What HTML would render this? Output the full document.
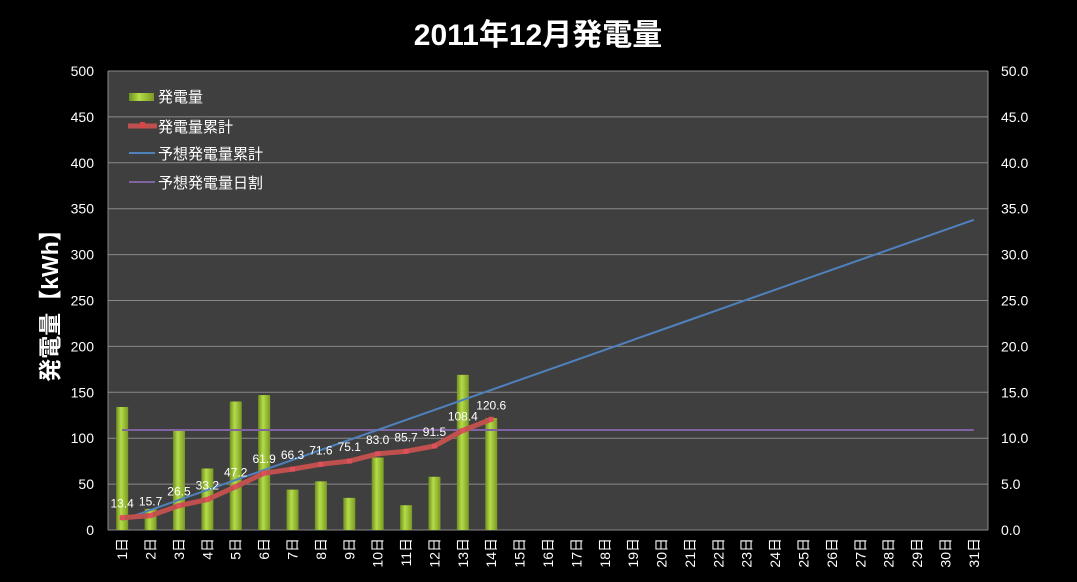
<!DOCTYPE html>
<html><head><meta charset="utf-8"><style>
body{margin:0;background:#000;}
svg{display:block;font-family:"Liberation Sans","Noto Sans CJK JP",sans-serif;}
</style></head><body>
<svg id="c" width="1077" height="582">
<defs>
<linearGradient id="bg" x1="0" x2="1" y1="0" y2="0">
<stop offset="0" stop-color="#6f8f1e"/><stop offset="0.4" stop-color="#b5dc4a"/><stop offset="1" stop-color="#7a9a22"/>
</linearGradient>
</defs>
<rect x="0" y="0" width="1077" height="582" fill="#000"/>
<text x="538" y="45" text-anchor="middle" fill="#fff" font-size="30" font-weight="bold">2011年12月発電量</text>
<rect x="108" y="71" width="880" height="459" fill="#3f3f3f"/>
<g id="grid"></g><g id="bars"></g><g id="lines"></g><g id="axes"></g>
<text transform="translate(58,300) rotate(-90)" text-anchor="middle" fill="#fff" font-size="23" font-weight="bold">発電量【kWh】</text>
<g font-size="15" fill="#fff">
<rect x="129" y="93" width="25" height="8" fill="url(#bg)"/>
<text x="158" y="102" fill="#fff">発電量</text>
<line x1="128" y1="126" x2="157" y2="126" stroke="#c0504d" stroke-width="5"/>
<rect x="140" y="122" width="5" height="6" fill="#d9464a"/>
<text x="158" y="132" fill="#fff">発電量累計</text>
<line x1="129" y1="153" x2="155" y2="153" stroke="#4f81bd" stroke-width="2"/>
<text x="158" y="159" fill="#fff">予想発電量累計</text>
<line x1="129" y1="182" x2="155" y2="182" stroke="#8064a2" stroke-width="2"/>
<text x="158" y="188" fill="#fff">予想発電量日割</text>
</g>
</svg>
<script>
const days=[];for(let i=1;i<=31;i++)days.push(i+"日");
const daily=[13.4,2.3,10.8,6.7,14.0,14.7,4.4,5.3,3.5,7.9,2.7,5.8,16.9,12.2];
const cumulative=[13.4,15.7,26.5,33.2,47.2,61.9,66.3,71.6,75.1,83.0,85.7,91.5,108.4,120.6];
const forecastDaily=10.9;
const leftTicks=[0,50,100,150,200,250,300,350,400,450,500];
const rightTicks=["0.0","5.0","10.0","15.0","20.0","25.0","30.0","35.0","40.0","45.0","50.0"];
const L=108,R=988,T=71,B=530;
const bw=(R-L)/days.length;
const xc=i=>L+bw*(i+0.5);
const yl=v=>B-(v/500)*(B-T);
const yr=v=>B-(v/50)*(B-T);
const NS="http://www.w3.org/2000/svg";
function mk(t,a,p){const e=document.createElementNS(NS,t);for(const k in a)e.setAttribute(k,a[k]);p.appendChild(e);return e;}
const grid=document.getElementById('grid'),axes=document.getElementById('axes'),bars=document.getElementById('bars'),lines=document.getElementById('lines');
leftTicks.forEach((v,i)=>{
 const g=mk('line',{x1:L,x2:R,y1:yl(v),y2:yl(v),stroke:'#8a8a8a','stroke-width':1},grid);
 
 
 const t=mk('text',{x:94,y:yl(v)+5,'text-anchor':'end',fill:'#fff','font-size':14},axes);t.textContent=v;
 
 
 const r=mk('text',{x:1001,y:yr(i*5)+5,fill:'#fff','font-size':14},axes);r.textContent=rightTicks[i];
 
 
});
mk('line',{x1:L,x2:L,y1:T,y2:B,stroke:'#8a8a8a'},axes);
mk('line',{x1:R,x2:R,y1:T,y2:B,stroke:'#8a8a8a'},axes);
days.forEach((d,i)=>{
 const t=mk('text',{transform:`translate(${xc(i)+5},${B+8}) rotate(-90)`,'text-anchor':'end',fill:'#fff','font-size':14},axes);t.textContent=d;
 
 
});
daily.forEach((v,i)=>{
 const b=mk('rect',{x:xc(i)-6,y:yr(v),width:12,height:B-yr(v),fill:'url(#bg)'},bars);
 
 
});
const pl=mk('line',{x1:xc(0),x2:xc(30),y1:yr(forecastDaily),y2:yr(forecastDaily),stroke:'#8064a2','stroke-width':2},lines);


const fp=days.map((d,i)=>xc(i)+','+yl(forecastDaily*(i+1))).join(' ');
const fl=mk('polyline',{points:fp,fill:'none',stroke:'#4f81bd','stroke-width':2},lines);


const cp=cumulative.map((v,i)=>xc(i)+','+yl(v)).join(' ');
const cl=mk('polyline',{points:cp,fill:'none',stroke:'#c0504d','stroke-width':5,'stroke-linejoin':'round'},lines);


cumulative.forEach((v,i)=>{
 const m=mk('rect',{x:xc(i)-2.5,y:yl(v)-2.5,width:5,height:5,fill:'#e0505a'},lines);
 
 
 const t=mk('text',{x:xc(i),y:yl(v)-10,'text-anchor':'middle',fill:'#fff','font-size':12},lines);t.textContent=v.toFixed(1);
 
 
});
</script>
</body></html>
